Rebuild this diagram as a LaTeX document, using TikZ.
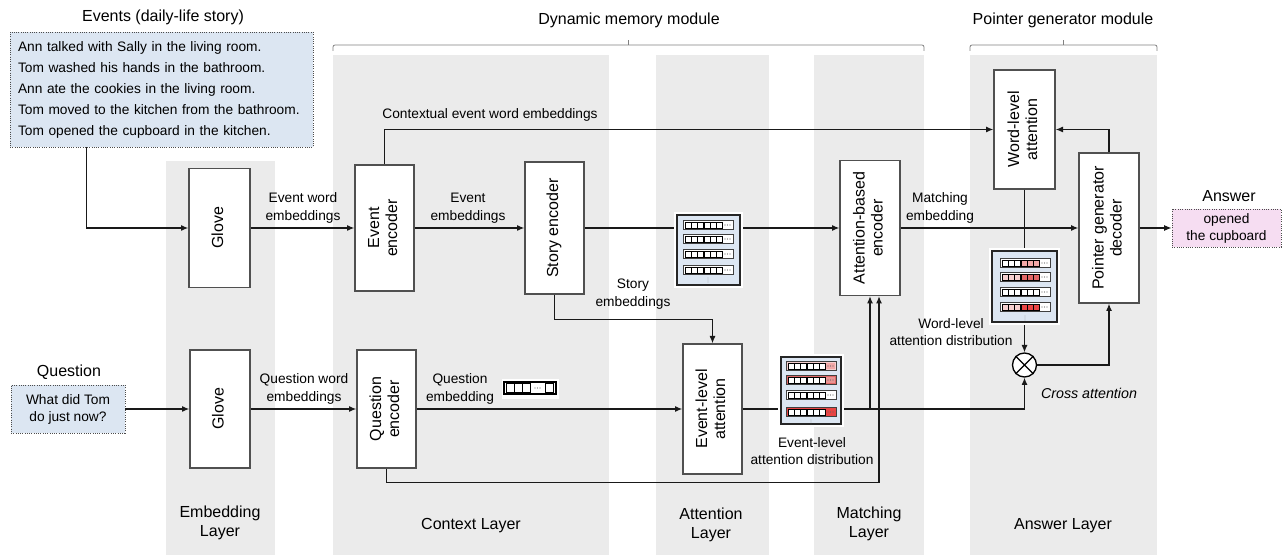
\documentclass[tikz,border=0pt]{standalone}
\usepackage{fontspec}
\setmainfont{Liberation Sans}
\usetikzlibrary{arrows.meta,calc}
\definecolor{band}{HTML}{EBEBEB}
\definecolor{lblue}{HTML}{DCE6F2}
\definecolor{lpink}{HTML}{F6DDF2}
\definecolor{pk1}{HTML}{F6CFCF}
\definecolor{pk2}{HTML}{F2A8A8}
\definecolor{rd1}{HTML}{E06666}
\definecolor{rd2}{HTML}{E84444}
\definecolor{edgegray}{HTML}{505050}
\newcommand\rt[1]{\rotatebox{90}{\begin{tabular}{@{}c@{}}#1\end{tabular}}}
% row of a vector icon: x-left, y-centre, bar fill, first cells, second cells, dots fill
\newcommand\vrow[6]{%
  \filldraw[draw=black!75, fill=#3, line width=0.7pt] (#1,#2-4.5) rectangle (#1+50,#2+4.5);
  \foreach \k in {0,1,2}{\filldraw[draw=black, fill=#4, line width=0.5pt] (#1+2+6*\k,#2-3) rectangle (#1+8+6*\k,#2+3);}
  \foreach \k in {0,1,2}{\filldraw[draw=black, fill=#5, line width=0.5pt] (#1+21+6*\k,#2-3) rectangle (#1+27+6*\k,#2+3);}
  \fill[#6] (#1+40,#2-3) rectangle (#1+49,#2+3);
  \foreach \k in {0,1,2}{\fill[black!60] (#1+42+2.5*\k,#2) circle (0.4pt);}
}
\newcommand\vdotsat[2]{\foreach \k in {-2,0,2}{\fill[black!60] (#1,#2+\k) circle (0.35pt);}}
\begin{document}
\begin{tikzpicture}[x=0.75pt,y=-0.75pt,
  bx/.style 2 args={minimum width=#1*0.75pt, minimum height=#2*0.75pt},
  blk/.style={draw=edgegray, fill=white, line width=1pt, inner sep=0pt, font=\fontsize{12}{13.5}\selectfont},
  conn/.style={line width=0.9pt, draw=black!90},
  arr/.style={conn, -{Latex[length=5.5pt,width=4.5pt]}},
  lbl/.style={font=\fontsize{10.3}{13.5}\selectfont, align=center, inner sep=0pt},
  ttl/.style={font=\fontsize{12}{14.3}\selectfont, align=center, inner sep=0pt},
  dotbox/.style={draw=black!70, densely dotted, line width=0.7pt, inner sep=0pt},
  ghost/.style={inner sep=0pt, outer sep=0pt},
  brc/.style={black!50, line width=0.6pt},
  icbg/.style={fill=lblue, draw=black!85, line width=0.8pt},
]
\useasboundingbox (0,0) rectangle (1282,555);
% layer bands
\fill[band] (166,161) rectangle (275,555);
\fill[band] (333,55) rectangle (609,555);
\fill[band] (656,55) rectangle (769,555);
\fill[band] (814,55) rectangle (924,555);
\fill[band] (970,55) rectangle (1157,555);
% module braces
\draw[brc, rounded corners=1.5pt] (333,51) -- (333,45) -- (924,45) -- (924,51);
\draw[brc] (628.5,45) -- (628.5,40);
\draw[brc, rounded corners=1.5pt] (970,51) -- (970,45) -- (1157,45) -- (1157,51);
\draw[brc] (1063.5,45) -- (1063.5,40);
% titles
\node[ttl] (t1) at (163,17) {Events (daily-life story)};
\node[ttl] (t2) at (629,20) {Dynamic memory module};
\node[ttl] (t3) at (1063,20) {Pointer generator module};
\node[ttl] (t4) at (69,372) {Question};
\node[ttl] (t5) at (1229,196) {Answer};
% layer labels
\node[ttl] (l1) at (220,522.5) {Embedding\\Layer};
\node[ttl] (l2) at (471,526) {Context Layer};
\node[ttl] (l3) at (711,525) {Attention\\Layer};
\node[ttl] (l4) at (869,524) {Matching\\Layer};
\node[ttl] (l5) at (1063,526) {Answer Layer};
% input / output boxes
\node[dotbox, fill=lblue, bx={303}{115}, text width=215.25pt, align=left, font=\fontsize{10.3}{15.75}\selectfont] (events) at (161.5,89.5)
  {Ann talked with Sally in the living room.\\Tom washed his hands in the bathroom.\\Ann ate the cookies in the living room.\\Tom moved to the kitchen from the bathroom.\\Tom opened the cupboard in the kitchen.};
\node[dotbox, fill=lblue, bx={114}{48}, align=center, font=\fontsize{10.3}{12.75}\selectfont] (qbox) at (68,409) {What did Tom\\do just now?};
\node[dotbox, fill=lpink, bx={109}{38}, align=center, font=\fontsize{10.3}{12.75}\selectfont] (answer) at (1226.5,228) {opened\\the cupboard};
% processing boxes
\node[blk,bx={61}{119}] (glove1) at (219.5,228) {\rt{Glove}};
\node[blk,bx={59}{126}] (evenc) at (384.5,228) {\rt{Event\\encoder}};
\node[blk,bx={59}{132}] (storyenc) at (554.5,228) {\rt{Story encoder}};
\node[blk,bx={60}{135}] (attenc) at (870,228) {\rt{Attention-based\\encoder}};
\node[blk,bx={61}{119}] (wordatt) at (1024.5,129.5) {\rt{Word-level\\attention}};
\node[blk,bx={60}{150}] (decoder) at (1109,228) {\rt{Pointer generator\\decoder}};
\node[blk,bx={60}{118}] (glove2) at (220,409) {\rt{Glove}};
\node[blk,bx={59}{118}] (qenc) at (386.5,409) {\rt{Question\\encoder}};
\node[blk,bx={59}{130}] (evatt) at (712.5,409) {\rt{Event-level\\attention}};
\node[circle, draw=black, fill=white, line width=1pt, minimum size=18pt, inner sep=0pt] (cross) at (1024.5,365) {};
\draw[line width=1pt] (cross.north east) -- (cross.south west) (cross.north west) -- (cross.south east);
% icon placeholders
\node[ghost,bx={69}{76}] (storyicon) at (708.5,250) {};
\node[ghost,bx={66}{73}] (evicon) at (811,390.5) {};
\node[ghost,bx={71}{77}] (wordicon) at (1024.5,286.5) {};
\node[ghost,bx={57}{20}] (qemb) at (530.5,389) {};
% edge labels
\node[lbl] (c1) at (490,115) {Contextual event word embeddings};
\node[lbl] (c2) at (303,208) {Event word\\embeddings};
\node[lbl] (c3) at (468,208) {Event\\embeddings};
\node[lbl] (c4) at (940,208) {Matching\\embedding};
\node[lbl] (c5) at (304,388.5) {Question word\\embeddings};
\node[lbl] (c6) at (460,388.5) {Question\\embedding};
\node[lbl] (c7) at (633,294) {Story\\embeddings};
\node[lbl, font=\fontsize{10.3}{12.75}\selectfont] (c8) at (812,451.5) {Event-level\\attention distribution};
\node[lbl, font=\fontsize{10.3}{12.75}\selectfont] (c9) at (951,332.5) {Word-level\\attention distribution};
\node[font=\fontsize{10.7}{12}\selectfont\itshape, inner sep=0pt] (c10) at (1089,393) {Cross attention};
% connectors
\draw[arr] ([xshift=57.75pt]events.south west) |- (glove1.west);
\draw[arr] (glove1.east) -- (evenc.west);
\draw[arr] (evenc.east) -- (storyenc.west);
\draw[arr] (storyenc.east) -- (attenc.west);
\draw[arr] (evenc.north) |- (wordatt.west);
\draw[arr] (attenc.east) -- (decoder.west);
\draw[arr] (decoder.east) -- (answer.west);
\draw[arr] (decoder.north) |- (wordatt.east);
\draw[conn] (wordatt.south) -- (wordicon.north);
\draw[arr] (wordicon.south) -- (cross.north);
\draw[arr] (cross.east) -| (decoder.south);
\draw[arr] (storyenc.south) -- ++(0,25) -| (evatt.north);
\draw[arr] (qbox.east) -- (glove2.west);
\draw[arr] (glove2.east) -- (qenc.west);
\draw[arr] (qenc.east) -- (evatt.west);
\draw[arr] (evatt.east) -| (cross.south);
\draw[arr] (attenc.south |- evatt.east) -- (attenc.south);
\draw[arr] (qenc.south) -- ++(0,14) -| ([xshift=6.75pt]attenc.south);
% story icon
\fill[white] (storyicon.north west) rectangle (storyicon.south east);
\draw[icbg] ($(storyicon.north west)+(3,3)$) rectangle ($(storyicon.south east)+(-3,-3)$);
\vrow{683}{225}{white}{white}{white}{white}
\vrow{683}{239}{white}{white}{white}{white}
\vrow{683}{254}{white}{white}{white}{white}
\vrow{683}{270}{white}{white}{white}{white}
\vdotsat{708}{280}
% event-level icon
\fill[white] (evicon.north west) rectangle (evicon.south east);
\draw[icbg] ($(evicon.north west)+(3,3)$) rectangle ($(evicon.south east)+(-3,-3)$);
\vrow{786}{366}{pk1}{white}{white}{pk2}
\vrow{786}{380}{rd1}{white}{white}{rd1!70!white}
\vrow{786}{395}{white}{white}{white}{white}
\vrow{786}{412}{rd2}{white}{white}{rd2}
\vdotsat{811}{422}
% word-level icon
\fill[white] (wordicon.north west) rectangle (wordicon.south east);
\draw[icbg] ($(wordicon.north west)+(3,3)$) rectangle ($(wordicon.south east)+(-3,-3)$);
\vrow{1000}{263}{white}{white}{pk2}{white}
\vrow{1000}{277}{white}{pk1}{rd1}{white}
\vrow{1000}{292}{white}{white}{white}{white}
\vrow{1000}{307}{white}{pk1}{rd2}{white}
\vdotsat{1025}{318}
% question embedding icon
\fill[white] (qemb.north west) rectangle (qemb.south east);
\draw[line width=0.9pt] (504,382) rectangle (556,394);
\foreach \k in {0,1,2}{\draw[line width=0.6pt] (506+8*\k,383.5) rectangle (514+8*\k,392.5);}
\foreach \k in {0,1,2}{\fill[black!60] (535+2.5*\k,388) circle (0.4pt);}
\draw[line width=0.6pt] (545,383.5) rectangle (553,392.5);
\end{tikzpicture}
\end{document}
